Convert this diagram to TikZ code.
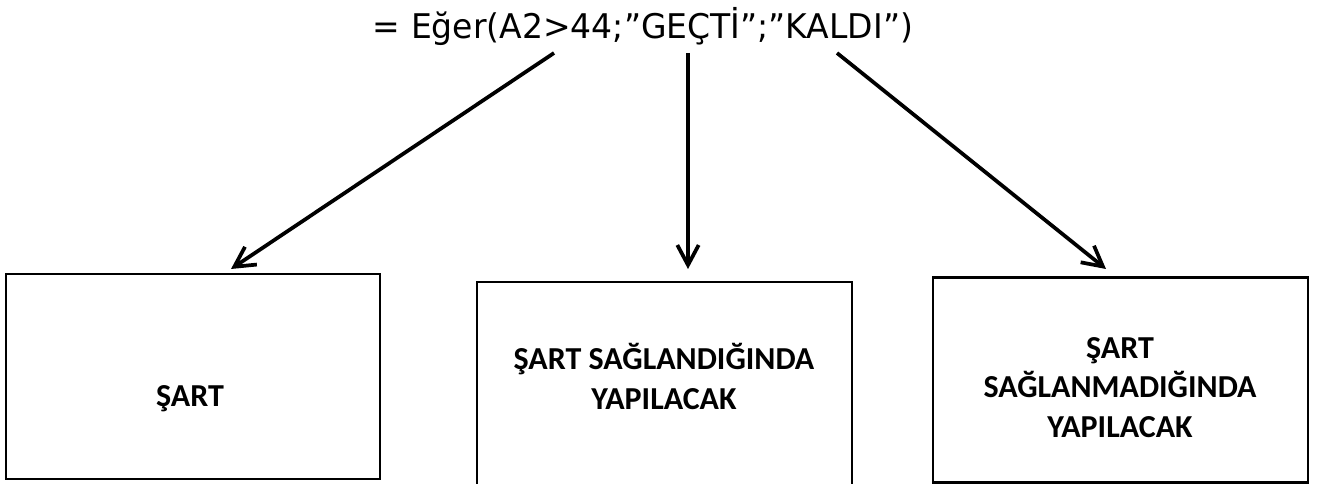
\documentclass[tikz,border=0pt]{standalone}
\usepackage{fontspec}
\usepackage{graphicx}
\setmainfont{Carlito}
\newfontfamily\titlefont{DejaVu Sans}
\usetikzlibrary{arrows.meta}
\begin{document}
\begin{tikzpicture}[x=0.75pt,y=-0.75pt,
  box/.style={draw, line width=1.6pt, inner sep=0pt, minimum height=153.75pt},
  boxtext/.style={font=\fontsize{24}{29.6}\selectfont\bfseries, align=center, inner sep=0pt},
  conn/.style={line width=2.8pt, -{Straight Barb[length=15pt,width=16pt,line width=2.8pt]}}]
\useasboundingbox (0,0) rectangle (1320,484);
% title
\node[anchor=base, inner sep=0pt] (title) at (643,39)
  {\resizebox{405pt}{\height}{\titlefont\fontsize{25.5}{30}\selectfont = Eğer(A2>44;”GEÇTİ”;”KALDI”)}};
% boxes
\node[box, minimum width=280.5pt] (b1) at (193,376.5) {};
\node[box, minimum width=281.25pt] (b2) at (664.5,384.5) {};
\node[box, minimum width=281.25pt] (b3) at (1120.5,380) {};
% texts
\node[boxtext, anchor=base] (t1) at (190,406) {ŞART};
\node[boxtext, anchor=base] (t2) at (664,409) {ŞART SAĞLANDIĞINDA\\YAPILACAK};
\node[boxtext, anchor=base] (t3) at (1120,437) {ŞART\\SAĞLANMADIĞINDA\\YAPILACAK};
% connectors
\coordinate (s1) at (554,53);
\coordinate (s2) at (688,53);
\coordinate (s3) at (837,53);
\coordinate (e1) at (231,269);
\coordinate (e2) at (688,269);
\coordinate (e3) at (1106,269);
\draw[conn] (s1) -- (e1);
\draw[conn] (s2) -- (e2);
\draw[conn] (s3) -- (e3);
\end{tikzpicture}
\end{document}
